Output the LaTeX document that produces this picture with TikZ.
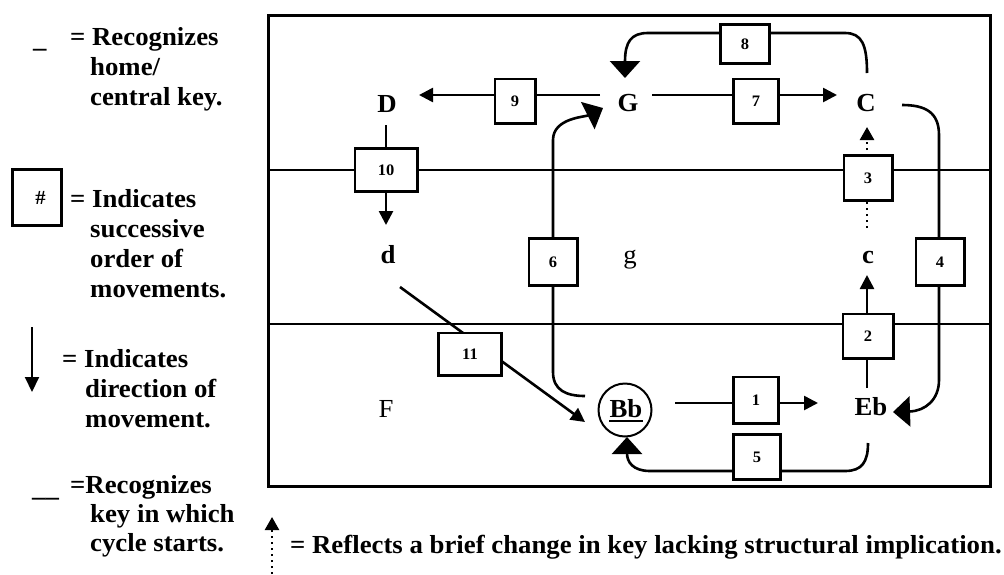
\documentclass[tikz,border=0pt]{standalone}
\usepackage{fontspec}
\setmainfont{Liberation Serif}[FakeStretch=1.03]
\usetikzlibrary{arrows.meta,calc}
\begin{document}
\begin{tikzpicture}[x=1pt,y=-1pt,
  key/.style={font=\fontsize{26}{30}\selectfont\bfseries, inner sep=0pt, anchor=base},
  keyr/.style={font=\fontsize{26}{30}\selectfont, inner sep=0pt, anchor=base},
  leg/.style={font=\fontsize{26}{30}\selectfont\bfseries, inner sep=0pt, anchor=base west},
  numbox/.style={draw, fill=white, line width=2.6pt, inner sep=0pt, font=\fontsize{16}{16}\selectfont\bfseries},
  conn/.style={line width=2.6pt},
  sarrow/.style={conn, -{Triangle[length=14pt,width=14pt]}},
  barrow/.style={conn, -{Triangle[length=17pt,width=30pt]}},
  darrow/.style={line width=2.5pt, dash pattern=on 2pt off 4pt, -{Triangle[length=13pt,width=14pt]}},
  divider/.style={line width=1.2pt},
]
\useasboundingbox (0,0) rectangle (1004,574);

% frame and dividers
\draw[line width=3pt] (268,15) rectangle (990,486);
\draw[divider] (268,170) -- (990,170);
\draw[divider] (268,324) -- (990,324);

% keys
\node[key] (D) at (387,112) {D};
\node[key] (G) at (628,111) {G};
\node[key] (C) at (866,111) {C};
\node[key] (d) at (388,263) {d};
\node[keyr] (g) at (630,263) {g};
\node[key] (c) at (868,263) {c};
\node[keyr] (F) at (386,417) {F};
\node[key] (Bb) at (626,417) {Bb};
\node[key] (Eb) at (871,415) {Eb};
\node[draw, circle, line width=2pt, minimum size=53pt, inner sep=0pt] (Bbring) at (625,410) {};
\draw[line width=1.8pt] ($(Bb.base west)+(0,4)$) -- ($(Bb.base east)+(0,4)$);

% connectors
\draw[sarrow] ($(G.base)+(-28,-16)$) -- ($(D.base)+(32,-17)$);
\draw[sarrow] ($(G.base)+(24,-16)$) -- ($(C.base)+(-29,-16)$);
\draw[sarrow] ($(D.base)+(-1,13)$) -- ($(d.base)+(-2,-38)$);
\draw[barrow] ($(C.base)+(1,-38)$) .. controls (867,45) and (862,33) .. (845,33)
  -- (648,33) .. controls (631,33) and (625,42) .. ($(G.base)+(-3,-33)$);
\draw[barrow] ($(Bb.base)+(-41,-21)$) .. controls (566,396) and (553,390) .. (553,372)
  -- (553,140) .. controls (553,118) and (585,117) .. ($(G.base)+(-25,-3)$);
\draw[sarrow] ($(d.base)+(12,24)$) -- ($(Bb.base)+(-41,5)$);
\draw[sarrow] ($(Bb.base)+(49,-14)$) -- ($(Eb.base)+(-53,-12)$);
\draw[sarrow] ($(Eb.base)+(-4,-27)$) -- ($(c.base)+(-1,12)$);
\draw[darrow] ($(c.base)+(-1,-35)$) -- ($(C.base)+(1,16)$);
\draw[barrow] ($(C.base)+(36,-6)$) .. controls (925,105) and (939,112) .. (939,135)
  -- (939,380) .. controls (939,400) and (925,411) .. ($(Eb.base)+(22,-3)$);
\draw[barrow] ($(Eb.base)+(-3,28)$) .. controls (868,462) and (862,471) .. (845,471)
  -- (650,471) .. controls (633,471) and (627,462) .. ($(Bb.base)+(1,20)$);

% number boxes
\node[numbox, minimum width=49.4pt, minimum height=39.4pt] (b8) at (745,44) {8};
\node[numbox, minimum width=40.4pt, minimum height=44.4pt] (b9) at (515,101) {9};
\node[numbox, minimum width=45.4pt, minimum height=44.4pt] (b7) at (756,101) {7};
\node[numbox, minimum width=62.4pt, minimum height=43.4pt] (b10) at (386,170) {10};
\node[numbox, minimum width=48.4pt, minimum height=45.4pt] (b3) at (868,178) {3};
\node[numbox, minimum width=48.4pt, minimum height=47.4pt] (b6) at (553,262) {6};
\node[numbox, minimum width=48.4pt, minimum height=47.4pt] (b4) at (940,262) {4};
\node[numbox, minimum width=63.4pt, minimum height=42.4pt] (b11) at (470,354) {11};
\node[numbox, minimum width=50.4pt, minimum height=44.4pt] (b2) at (868,336) {2};
\node[numbox, minimum width=45.4pt, minimum height=46.4pt] (b1) at (756,400) {1};
\node[numbox, minimum width=47.4pt, minimum height=45.4pt] (b5) at (757,457) {5};

% legend
\node[leg] (u1) at (33,47) {\_};
\node[leg] (l1a) at (70,45) {= Recognizes};
\node[leg] (l1b) at (90,75) {home/};
\node[leg] (l1c) at (90,105) {central key.};

\node[draw, line width=3pt, minimum width=49pt, minimum height=56pt, inner sep=0pt,
  font=\fontsize{20}{20}\selectfont\bfseries] (hash) at (37,197.5) {\hspace*{7pt}\#};
\node[leg] (l2a) at (70,207) {= Indicates};
\node[leg] (l2b) at (90,237) {successive};
\node[leg] (l2c) at (90,267) {order of};
\node[leg] (l2d) at (90,297) {movements.};

\coordinate (la1) at (32,327);
\coordinate (la2) at (32,392);
\draw[line width=2pt, -{Triangle[length=15pt,width=14pt]}] (la1) -- (la2);
\node[leg] (l3a) at (62,367) {= Indicates};
\node[leg] (l3b) at (85,397) {direction of};
\node[leg] (l3c) at (85,427) {movement.};

\node[leg] (u2) at (32,496) {\_\_};
\node[leg] (l4a) at (70,493) {=Recognizes};
\node[leg] (l4b) at (90,522) {key in which};
\node[leg] (l4c) at (90,551) {cycle starts.};

\coordinate (ld1) at (272,574);
\coordinate (ld2) at (272,517);
\draw[darrow] (ld1) -- (ld2);
\node[leg] (l5) at (290,553) {= Reflects a brief change in key lacking structural implication.};
\end{tikzpicture}
\end{document}
